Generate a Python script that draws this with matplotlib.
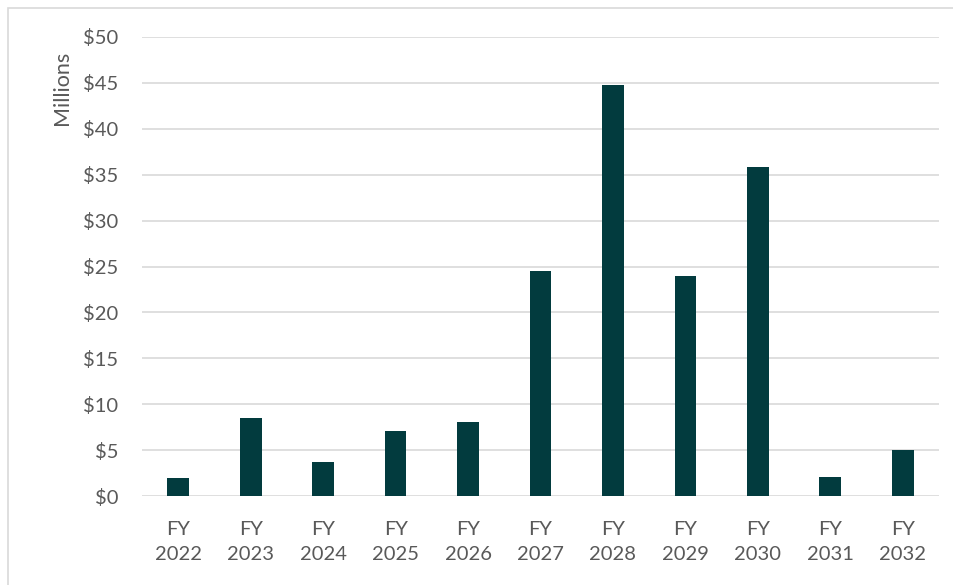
import matplotlib.pyplot as plt
from matplotlib.patches import Rectangle

years = ["FY\n2022", "FY\n2023", "FY\n2024", "FY\n2025", "FY\n2026", "FY\n2027",
         "FY\n2028", "FY\n2029", "FY\n2030", "FY\n2031", "FY\n2032"]
spend = [1.95, 8.55, 3.65, 7.05, 8.05, 24.5, 44.8, 24.0, 35.8, 2.1, 5.0]
yticks = [0, 5, 10, 15, 20, 25, 30, 35, 40, 45, 50]

plt.rcParams['font.family'] = ['Lato', 'DejaVu Sans']

fig = plt.figure(figsize=(9.54, 5.85), dpi=100)
ax = fig.add_axes([142 / 954, 1 - 496 / 585, 797 / 954, 459 / 585])

x = list(range(len(years)))
ax.bar(x, spend, width=0.3, color='#023B3E', zorder=3)

ax.set_xlim(-0.5, len(years) - 0.5)
ax.set_ylim(0, 50)
ax.set_yticks(yticks)
ax.set_yticklabels([f"${v}" for v in yticks])
ax.set_xticks(x)
ax.set_xticklabels(years, linespacing=1.6)

ax.grid(axis='y', color='#D9D9D9', linewidth=1.2, zorder=0)
for s in ax.spines.values():
    s.set_visible(False)
ax.tick_params(axis='both', length=0, labelsize=14.5, colors='#595959')
ax.tick_params(axis='y', pad=17)
ax.tick_params(axis='x', pad=18)

ax.set_ylabel("Millions", fontsize=15.5, color='#595959')
ax.yaxis.set_label_coords(-0.1, 0.889)
ax.yaxis.label.set_va('center')

# thin border around the chart area
fig.patches.append(Rectangle((8 / 954, -0.05), 1.1, 1 - 8 / 585 + 0.05,
                             transform=fig.transFigure, fill=False,
                             edgecolor='#D9D9D9', linewidth=1.2))

fig.savefig("out.png", dpi=100)
